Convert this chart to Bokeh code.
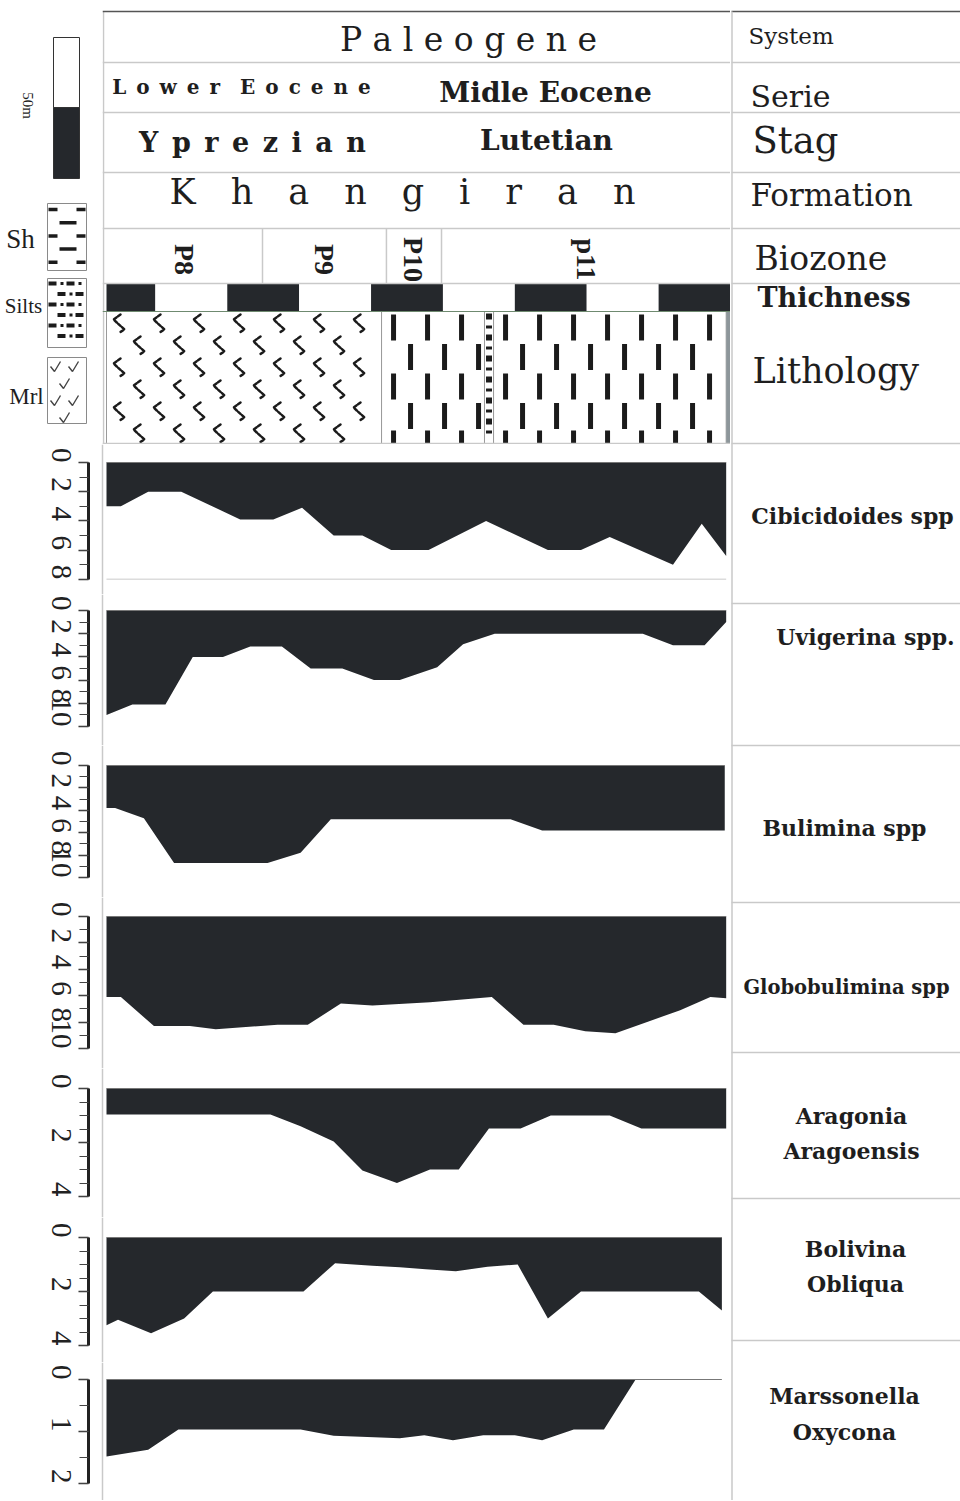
import numpy as np
from bokeh.plotting import figure
from bokeh.models import Range1d, Span, SingleIntervalTicker
from bokeh.layouts import row, column
from bokeh.embed import file_html
from bokeh.resources import INLINE
from bokeh.core.properties import value

# ------------------------------------------------------------------ data
system_names = ["Paleogene"]
series_names = ["Lower Eocene", "Midle Eocene"]
stage_names = ["Yprezian", "Lutetian"]
formation_names = ["Khangiran"]
biozone_names = ["P8", "P9", "P10", "p11"]
biozone_bounds_m = [0, 108.5, 194.7, 233.0, 434.0]
thickness_edges_m = [0, 34, 84, 134, 184, 234, 284, 334, 384, 434]
lithology_types = ["Mrl", "Sh", "Silts", "Sh"]
lithology_bounds_m = [0, 191.3, 262.9, 269.2, 431.0]
legend_lithologies = ["Sh", "Silts", "Mrl"]
scale_bar_label = "50m"
header_row_labels = ["System", "Serie", "Stag", "Formation", "Biozone", "Thichness", "Lithology"]

species_lines = [["Cibicidoides spp"], ["Uvigerina spp."], ["Bulimina spp"],
                 ["Globobulimina spp"], ["Aragonia", "Aragoensis"],
                 ["Bolivina", "Obliqua"], ["Marssonella", "Oxycona"]]
axis_max = [8, 10, 10, 10, 4, 4, 2]

cib_x = [0, 10, 29, 52, 93, 116, 136, 158, 178, 198, 224, 264, 307, 330, 350, 394, 414, 431]
cib_v = [3.0, 3.0, 2.0, 2.0, 3.9, 3.9, 3.1, 5.0, 5.0, 6.0, 6.0, 4.0, 6.0, 6.0, 5.1, 7.0, 4.2, 6.4]
uvi_x = [0, 18, 41, 60, 81, 100, 122, 142, 164, 186, 204, 230, 248, 270, 373, 394, 416, 431]
uvi_v = [9.0, 8.1, 8.1, 4.0, 4.0, 3.1, 3.1, 5.0, 5.0, 6.0, 6.0, 4.9, 2.9, 2.0, 2.0, 3.0, 3.0, 1.0]
bul_x = [0, 6, 26, 47, 112, 135, 156, 281, 303, 430]
bul_v = [3.8, 3.8, 4.7, 8.7, 8.7, 7.8, 4.8, 4.8, 5.8, 5.8]
glo_x = [0, 10, 33, 58, 76, 119, 140, 163, 185, 225, 268, 290, 311, 333, 354, 377, 399, 420, 431]
glo_v = [6.1, 6.1, 8.3, 8.3, 8.55, 8.2, 8.2, 6.6, 6.75, 6.5, 6.1, 8.2, 8.2, 8.7, 8.85, 7.95, 7.1, 6.1, 6.2]
ara_x = [0, 114, 135, 158, 178, 202, 225, 245, 266, 288, 309, 350, 372, 431]
ara_v = [0.96, 0.96, 1.4, 1.96, 3.04, 3.5, 3.0, 3.0, 1.48, 1.48, 1.0, 1.0, 1.48, 1.48]
bol_x = [0, 8, 31, 54, 74, 137, 159, 185, 204, 222, 243, 265, 286, 307, 330, 412, 428]
bol_v = [3.25, 3.05, 3.55, 3.0, 2.0, 2.0, 0.95, 1.05, 1.1, 1.18, 1.25, 1.08, 1.0, 3.0, 2.0, 2.0, 2.7]
mar_x = [0, 29, 50, 135, 158, 177, 204, 221, 241, 262, 284, 303, 325, 346, 368, 428]
mar_v = [1.48, 1.35, 0.96, 0.96, 1.08, 1.1, 1.13, 1.07, 1.17, 1.07, 1.07, 1.17, 0.96, 0.96, 0.0, 0.0]

# ------------------------------------------------------------------ layout / style
TOTAL_H = 1500
LEFT_W, RIGHT_W = 730, 230
LEGEND_W, HEADER_W, HEADER_H = 102, 628, 444
ZERO_PX = 106.0
PX_PER_M = 624.0 / 434.0
AXIS_PX = 88


def m_at(px):
    return (px - ZERO_PX) / PX_PER_M


def px_at(m):
    return ZERO_PX + m * PX_PER_M


M_END = m_at(730)
FILL = "#25282c"
GRID = "#c9c9c9"
INK = "#1e1e1e"
PAT = "#1b1b1b"
SERIF = "DejaVu Serif"
TIMES = "Liberation Serif"
ENSP = "\u2002"

panel_layout = [  # row top px, row height, px of value 0, px per unit, tick interval, minor ticks
    (444, 150, 462, 14.6, 2, 2),
    (594, 151, 610, 11.6, 2, 2),
    (745, 152, 765, 11.2, 2, 2),
    (897, 171, 916, 13.2, 2, 2),
    (1068, 149, 1088, 27.0, 2, 4),
    (1217, 145, 1237, 27.0, 2, 4),
    (1362, TOTAL_H - 1362, 1379, 52.0, 1, 2),
]


def bare(p):
    p.xgrid.visible = False
    p.ygrid.visible = False
    p.background_fill_color = "white"
    p.border_fill_color = "white"
    p.outline_line_color = None
    return p


def spaced(s, sep, word_gap=3):
    return (sep * word_gap).join(sep.join(w) for w in s.split(" "))


def txt(p, x, y, t, font, size, style="normal", align="center", angle=0.0):
    p.text(x=[x], y=[y], text=[t], angle=angle, text_font=value(font), text_font_size=size,
           text_font_style=style, text_color=INK, text_align=align, text_baseline="middle")


# ------------------------------------------------------------------ legend column (header, left)
lg = bare(figure(width=LEGEND_W, height=HEADER_H, x_range=Range1d(0, LEGEND_W),
                 y_range=Range1d(HEADER_H, 0), x_axis_location=None, y_axis_location=None,
                 toolbar_location=None, output_backend="svg", min_border=0))
lg.quad(left=[53], right=[79], top=[37], bottom=[107], fill_color="white", line_color="#333", line_width=1)
lg.quad(left=[53], right=[79], top=[107], bottom=[178], fill_color=FILL, line_color="#333", line_width=1)
txt(lg, 27, 105, scale_bar_label, TIMES, "15px", angle=-np.pi / 2)

leg_boxes = {"Sh": (203, 270), "Silts": (278, 347), "Mrl": (357, 423)}
leg_label_xy = {"Sh": (20, 238, "27px"), "Silts": (23, 305, "21px"), "Mrl": (26, 396, "23px")}
BX0, BX1 = 47, 86
for name in legend_lithologies:
    t, b = leg_boxes[name]
    lg.quad(left=[BX0], right=[BX1], top=[t], bottom=[b], fill_color="white",
            line_color="#8a8a8a", line_width=1)
    if name == "Sh":      # staggered horizontal dashes
        for j, yc in enumerate(np.arange(t + 6, b - 2, 13.2)):
            if j % 2 == 0:
                segs = [(BX0 + 1, BX0 + 10), (BX1 - 10, BX1 - 1)]
            else:
                segs = [(BX0 + 12, BX1 - 10)]
            for x0, x1 in segs:
                lg.rect(x=[(x0 + x1) / 2], y=[yc], width=[x1 - x0], height=[3.5],
                        fill_color=PAT, line_color=None)
    elif name == "Silts":  # dash-dot rows
        for j, yc in enumerate(np.arange(t + 5, b - 2, 10.5)):
            shift = 0 if j % 2 == 0 else 9
            for k, xc in enumerate(np.arange(BX0 + 5 + shift, BX1 - 2, 18)):
                lg.rect(x=[xc], y=[yc], width=[8], height=[4], fill_color=PAT, line_color=None)
                if xc + 10 < BX1 - 1:
                    lg.rect(x=[xc + 9.5], y=[yc], width=[3], height=[3], fill_color=PAT, line_color=None)
    else:                 # marl check marks
        xs, ys = [], []
        for j, yc in enumerate(np.arange(t + 10, b - 4, 17)):
            shift = 0 if j % 2 == 0 else 9
            for xc in np.arange(BX0 + 8 + shift, BX1 - 5, 18):
                xs.append([xc - 5, xc - 1, xc + 5])
                ys.append([yc - 1, yc + 4, yc - 6])
        lg.multi_line(xs=xs, ys=ys, line_color="#444", line_width=1.4)
    lx, ly, fs = leg_label_xy[name]
    txt(lg, lx, ly, name, TIMES, fs)

# ------------------------------------------------------------------ header (main column)
hd = bare(figure(width=HEADER_W, height=HEADER_H, x_range=Range1d(m_at(LEGEND_W), M_END),
                 y_range=Range1d(HEADER_H, 0), x_axis_location=None, y_axis_location=None,
                 toolbar_location=None, output_backend="svg", min_border=0))
for yy in [62, 112, 172, 228, 283, 443]:
    hd.add_layout(Span(location=yy, dimension="width", line_color=GRID, line_width=1.5))
hd.add_layout(Span(location=11, dimension="width", line_color="#555", line_width=1.5))
hd.segment(x0=[m_at(103)], y0=[11], x1=[m_at(103)], y1=[HEADER_H], line_color=GRID, line_width=1.5)

header_texts = [
    (spaced(system_names[0], " "), 468, 39, "33px", "normal"),
    (spaced(series_names[0], ENSP, 2), 241, 86, "20px", "bold"),
    (series_names[1], 545, 92, "28px", "bold"),
    (spaced(stage_names[0], ENSP), 252, 142, "27px", "bold"),
    (stage_names[1], 546, 140, "28px", "bold"),
    (spaced(formation_names[0], ENSP * 2, 1), 402, 191, "35px", "normal"),
]
for t, px, cy, fs, st in header_texts:
    txt(hd, m_at(px), cy, t, SERIF, fs, st)

# biozones
bz_inner = biozone_bounds_m[1:-1]
hd.segment(x0=bz_inner, y0=228, x1=bz_inner, y1=283, line_color=GRID, line_width=1.5)
bz_mid = [(a + b) / 2 for a, b in zip(biozone_bounds_m[:-1], biozone_bounds_m[1:])]
hd.text(x=bz_mid, y=[259] * len(bz_mid), text=biozone_names, angle=-np.pi / 2,
        text_font=value(TIMES), text_font_size="28px", text_font_style="bold",
        text_color=INK, text_align="center", text_baseline="middle")

# thickness bar
tl = thickness_edges_m[:-1]
tr = thickness_edges_m[1:]
tcol = [FILL if i % 2 == 0 else "white" for i in range(len(tl))]
hd.quad(left=tl, right=tr, top=283, bottom=311, fill_color=tcol, line_color=None)

# lithology column with drawn patterns
LT, LB = 311, 443
hd.quad(left=lithology_bounds_m[:-1], right=lithology_bounds_m[1:], top=LT, bottom=LB,
        fill_color="white", line_color="#9a9a9a", line_width=1)
for kind, a_m, b_m in zip(lithology_types, lithology_bounds_m[:-1], lithology_bounds_m[1:]):
    a, b = px_at(a_m), px_at(b_m)
    if kind == "Sh":
        xs, ys, hs = [], [], []
        rows_y = [327, 356.5, 386, 415.5, 436.5]
        for j, yc in enumerate(rows_y):
            x = a + (12 if j % 2 == 0 else 29)
            while x < b - 3:
                xs.append(m_at(x))
                ys.append(yc)
                hs.append(26 if j < 4 else 13)
                x += 34
        hd.rect(x=xs, y=ys, width=5, height=hs, width_units="screen",
                fill_color=PAT, line_color=None)
    elif kind == "Mrl":
        shape = [(2, -9), (-5, -4), (6, 6), (1, 9)]
        mx, my = [], []
        for j, yc in enumerate(np.arange(323, 440, 22)):
            x = a + (12 if j % 2 == 0 else 32)
            while x < b - 8:
                mx.append([m_at(x + dx) for dx, dy in shape])
                my.append([yc + dy for dx, dy in shape])
                x += 40
        hd.multi_line(xs=mx, ys=my, line_color=PAT, line_width=2.5, line_dash="3 2",
                      line_cap="round", line_join="round")
    else:
        cx = m_at((a + b) / 2)
        sy = np.arange(316, 440, 10.5)
        hd.rect(x=[cx] * len(sy), y=list(sy), width=6, height=[6 if k % 2 == 0 else 3 for k in range(len(sy))],
                width_units="screen", fill_color=PAT, line_color=None)
hd.quad(left=[lithology_bounds_m[-1]], right=[M_END], top=[LT], bottom=[LB],
        fill_color="#8d969a", line_color=None)
hd.add_layout(Span(location=LT, dimension="width", line_color="#6f8a70", line_width=1))

# ------------------------------------------------------------------ abundance panels
panel_data = [(cib_x, cib_v), (uvi_x, uvi_v), (bul_x, bul_v), (glo_x, glo_v),
              (ara_x, ara_v), (bol_x, bol_v), (mar_x, mar_v)]
panels = []
for i, ((xs, vs), lay, vmax) in enumerate(zip(panel_data, panel_layout, axis_max)):
    top, h, y0, ppu, interval, nminor = lay
    v_top = (top - y0) / ppu
    v_bot = (top + h - y0) / ppu
    p = bare(figure(width=LEFT_W, height=h, x_range=Range1d(m_at(AXIS_PX), M_END),
                    y_range=Range1d(v_bot, v_top), x_axis_location=None,
                    toolbar_location=None, output_backend="svg",
                    min_border_left=AXIS_PX, min_border_right=0,
                    min_border_top=0, min_border_bottom=0))
    p.add_layout(Span(location=m_at(102), dimension="height", line_color=GRID, line_width=1.5))
    p.varea(x=xs, y1=[0] * len(xs), y2=vs, fill_color=FILL)
    p.line(x=[xs[0], xs[-1]], y=[0, 0], line_color="#777", line_width=1)
    if i == 0:
        p.line(x=[xs[0], xs[-1]], y=[vmax, vmax], line_color="#dcdcdc", line_width=1.5)
    ax = p.yaxis[0]
    ax.bounds = (0, vmax)
    ax.ticker = SingleIntervalTicker(interval=interval, num_minor_ticks=nminor)
    ax.axis_line_width = 3
    ax.axis_line_color = "#222"
    ax.major_tick_out = 10
    ax.major_tick_in = 0
    ax.minor_tick_out = 9
    ax.minor_tick_in = 0
    ax.major_tick_line_color = "#333"
    ax.minor_tick_line_color = "#444"
    ax.major_tick_line_width = 1.5
    ax.minor_tick_line_width = 1.2
    ax.major_label_text_font = TIMES
    ax.major_label_text_font_size = "29px"
    ax.major_label_text_color = "#222"
    ax.major_label_orientation = -np.pi / 2
    ax.major_label_standoff = 17
    panels.append(p)

# ------------------------------------------------------------------ right label column
rf = bare(figure(width=RIGHT_W, height=TOTAL_H, x_range=Range1d(730, 960),
                 y_range=Range1d(TOTAL_H, 0), x_axis_location=None, y_axis_location=None,
                 toolbar_location=None, output_backend="svg", min_border=0))
sep_y = [62, 112, 172, 228, 283, 443, 603, 745, 902, 1052, 1198, 1340]
rf.segment(x0=731, y0=sep_y, x1=960, y1=sep_y, line_color=GRID, line_width=1.5)
rf.segment(x0=[731], y0=[11], x1=[960], y1=[11], line_color="#555", line_width=1.5)
rf.segment(x0=[731.5], y0=[11], x1=[731.5], y1=[TOTAL_H], line_color=GRID, line_width=1.5)

row_label_style = [  # x, centre y, size, style
    (748, 35, "23px", "normal"), (750, 96, "30px", "normal"), (752, 140, "37px", "normal"),
    (750, 194, "31px", "normal"), (754, 258, "33px", "normal"), (757, 297, "27px", "bold"),
    (752, 370, "35px", "normal")]
for name, (lx, cy, fs, st) in zip(header_row_labels, row_label_style):
    txt(rf, lx, cy, name, SERIF, fs, st, align="left")

species_label_pos = [(852, [515], "22px"), (865, [636], "22px"), (844, [827], "22px"),
                     (846, [987], "19.5px"), (851, [1115, 1150], "22px"),
                     (855, [1248, 1283], "22px"), (844, [1395, 1431], "22px")]
for lines, (cx, ys, fs) in zip(species_lines, species_label_pos):
    rf.text(x=[cx] * len(lines), y=ys, text=lines, text_font=value(SERIF), text_font_size=fs,
            text_font_style="bold", text_color=INK, text_align="center", text_baseline="middle")

layout = row(column(row(lg, hd), *panels), rf)
open("out.html", "w").write(file_html(layout, INLINE))
